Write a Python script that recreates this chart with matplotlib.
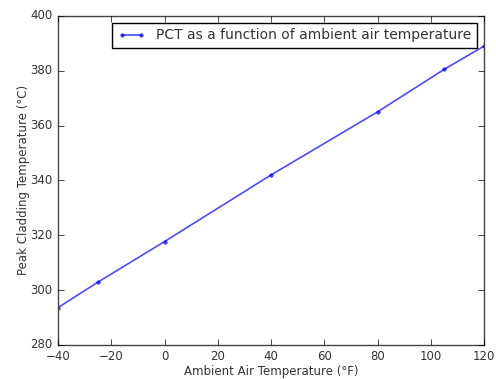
import matplotlib
matplotlib.use('Agg')
import matplotlib.pyplot as plt

# ambient air temperature (F) and peak cladding temperature (C)
ambient_f = [-40, -25, 0, 40, 80, 105, 120]
pct_c = [293.6, 302.9, 317.7, 342.0, 365.0, 380.5, 389.0]

plt.style.use('classic')
text_color = '#333333'

fig = plt.figure(figsize=(4.96, 3.79), dpi=100)
ax = fig.add_axes([0.117, 0.090, 0.859, 0.868])

ax.plot(ambient_f, pct_c, 'b.-', alpha=0.7, markersize=5, linewidth=1.2,
        label='PCT as a function of ambient air temperature')

ax.set_xlim(-40, 120)
ax.set_ylim(280, 400)
ax.tick_params(labelsize=8.5, labelcolor=text_color)
ax.set_xlabel('Ambient Air Temperature (°F)', fontsize=8.5, color=text_color, labelpad=1)
ax.set_ylabel('Peak Cladding Temperature (°C)', fontsize=8.5, color=text_color, labelpad=0)
for s in ax.spines.values():
    s.set_edgecolor('#444444')
leg = ax.legend(loc='upper right', fontsize=10, numpoints=2)
for t in leg.get_texts():
    t.set_color(text_color)

fig.savefig('out.png', dpi=100)
